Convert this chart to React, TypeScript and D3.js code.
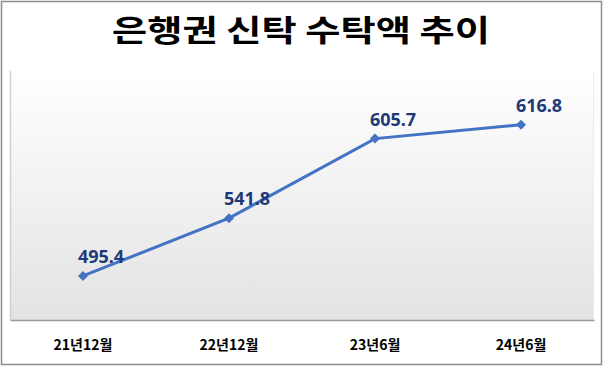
import React, { useRef, useEffect } from "react";
import * as d3 from "d3";

const title = "은행권 신탁 수탁액 추이";
const categories = ["21년12월", "22년12월", "23년6월", "24년6월"];
const values = [495.4, 541.8, 605.7, 616.8];
const yDomain = [460, 660];

const App = () => {
  const svgRef = useRef<SVGSVGElement>(null);

  useEffect(() => {
    const width = 604;
    const height = 367;
    const plot = { left: 10, top: 71, right: 594, bottom: 320 };

    const svg = d3.select(svgRef.current);
    // clean the svg element
    svg.selectAll("*").remove();

    const defs = svg.append("defs");
    const grad = defs
      .append("linearGradient")
      .attr("id", "plotBg")
      .attr("x1", 0)
      .attr("y1", 0)
      .attr("x2", 0)
      .attr("y2", 1);
    grad.append("stop").attr("offset", "0%").attr("stop-color", "#ffffff");
    grad.append("stop").attr("offset", "100%").attr("stop-color", "#e3e3e3");

    svg
      .append("rect")
      .attr("width", width)
      .attr("height", height)
      .attr("fill", "#ffffff");

    // outer frame
    svg
      .append("rect")
      .attr("x", 1.5)
      .attr("y", 1.5)
      .attr("width", width - 4)
      .attr("height", height - 4)
      .attr("fill", "none")
      .attr("stroke", "#8c8c8c")
      .attr("stroke-width", 1.5);

    svg
      .append("text")
      .attr("x", 301)
      .attr("y", 41)
      .attr("text-anchor", "middle")
      .attr("font-family", "'Noto Sans CJK KR', sans-serif")
      .attr("font-weight", 700)
      .attr("font-size", 30)
      .attr("textLength", 378)
      .attr("lengthAdjust", "spacingAndGlyphs")
      .attr("fill", "#000")
      .text(title);

    // plot area
    svg
      .append("rect")
      .attr("x", plot.left)
      .attr("y", plot.top)
      .attr("width", plot.right - plot.left)
      .attr("height", plot.bottom - plot.top)
      .attr("fill", "url(#plotBg)");
    svg
      .append("line")
      .attr("x1", plot.left + 0.5)
      .attr("x2", plot.left + 0.5)
      .attr("y1", plot.top)
      .attr("y2", plot.bottom)
      .attr("stroke", "#d0d0d0")
      .attr("stroke-width", 1.5);
    svg
      .append("line")
      .attr("x1", plot.right - 0.5)
      .attr("x2", plot.right - 0.5)
      .attr("y1", plot.top)
      .attr("y2", plot.bottom)
      .attr("stroke", "#ececec");

    const x = d3
      .scaleBand()
      .domain(categories)
      .range([plot.left, plot.right]);
    const y = d3
      .scaleLinear()
      .domain(yDomain)
      .range([plot.bottom, plot.top]);

    const xAxis = svg
      .append("g")
      .attr("transform", `translate(0, ${plot.bottom})`)
      .call(d3.axisBottom(x).tickSize(0).tickPadding(20));
    xAxis.select(".domain").attr("stroke", "#9a9a9a").attr("stroke-width", 1.5);
    xAxis
      .selectAll("text")
      .attr("font-family", "'Noto Sans CJK KR', sans-serif")
      .attr("font-weight", 700)
      .attr("font-size", 14)
      .attr("fill", "#000")
      .attr("dy", "0.71em");

    const cx = (d: string) => (x(d) as number) + x.bandwidth() / 2;

    const data = categories.map((c, i) => ({ c, v: values[i] }));

    svg
      .append("path")
      .datum(data)
      .attr("fill", "none")
      .attr("stroke", "#4472c4")
      .attr("stroke-width", 3)
      .attr(
        "d",
        d3
          .line<{ c: string; v: number }>()
          .x(d => cx(d.c))
          .y(d => y(d.v))
      );

    svg
      .append("g")
      .selectAll("path")
      .data(data)
      .join("path")
      .attr("transform", d => `translate(${cx(d.c)}, ${y(d.v)})`)
      .attr("d", d3.symbol(d3.symbolDiamond2, 64)())
      .attr("fill", "#4472c4");

    svg
      .append("g")
      .selectAll("text")
      .data(data)
      .join("text")
      .attr("x", d => cx(d.c) + 18)
      .attr("y", d => y(d.v) - 13)
      .attr("text-anchor", "middle")
      .attr("font-family", "'Noto Sans', sans-serif")
      .attr("font-weight", 700)
      .attr("font-size", 18)
      .attr("fill", "#1f3a78")
      .text(d => d.v.toFixed(1));
  }, []);

  return (
    <svg
      ref={svgRef}
      width={604}
      height={367}
      style={{ position: "absolute", left: 0, top: 0 }}
    />
  );
};

export default App;
